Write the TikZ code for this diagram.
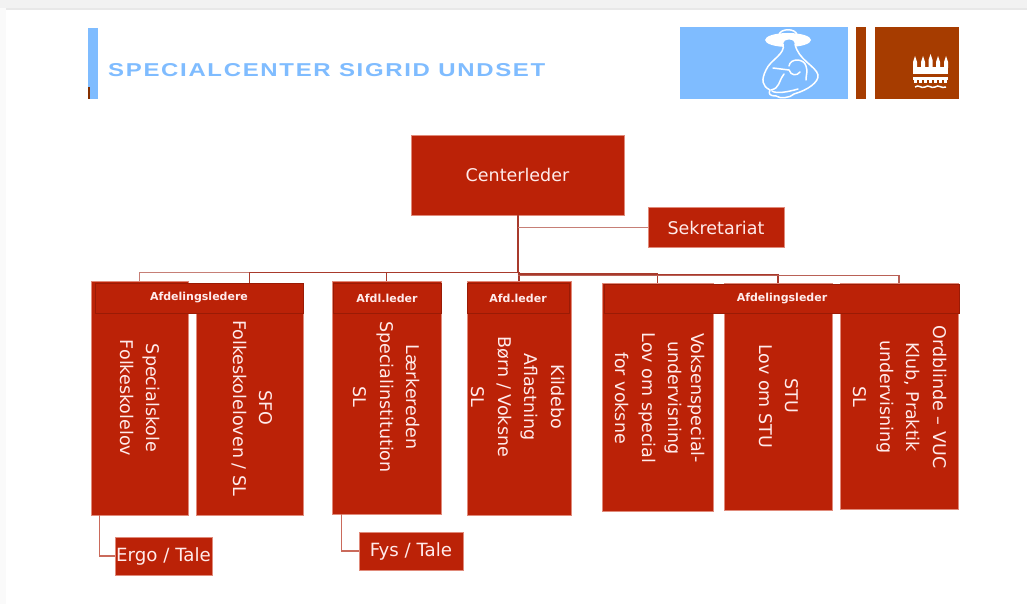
\documentclass[tikz,border=0pt]{standalone}
\usepackage{graphicx}
\usepackage{fontspec}
\setmainfont{DejaVu Sans}
\newfontfamily\titlefont[LetterSpace=7]{Liberation Sans}
\definecolor{boxred}{HTML}{BB2207}
\definecolor{boxedge}{HTML}{E08A7A}
\definecolor{headedge}{HTML}{9A1B05}
\definecolor{linered}{HTML}{A83A2C}
\definecolor{logoblue}{HTML}{7FBCFF}
\definecolor{logobrown}{HTML}{A63C00}
\tikzset{
  redbox/.style={draw=boxedge, fill=boxred, text=white!92!red, inner sep=0pt, line width=0.5pt, font=\fontsize{17.5}{20}\selectfont},
  headbox/.style={draw=headedge, fill=boxred, text=white!92!red, inner sep=0pt, line width=1pt, font=\fontsize{11}{13}\selectfont\bfseries},
  coltext/.style={rotate=-90, align=center, text=white!92!red, inner sep=0pt, font=\fontsize{17.5}{26.5}\selectfont},
  branch/.style={draw=linered, line width=1.2pt},
  logobox/.style={inner sep=0pt, draw=none}
}
\begin{document}
\begin{tikzpicture}[x=1pt, y=-1pt]
    \useasboundingbox (0,0) rectangle (1027,604);
    % Page edges
    \fill[white] (0,0) rectangle (1027,604);
    \fill[black!2] (0,0) rectangle (6,604);
    \fill[black!5] (0,0) rectangle (1027,8);
    \fill[black!9] (6,8) rectangle (1027,10);

    % Title bar
    \fill[logoblue] (88,28) rectangle (98,99);
    \fill[logobrown!80!black] (88,87) rectangle (90,99);
    \node[logobox, anchor=west, text=logoblue] (title) at (108,70)
        {\resizebox{437pt}{13pt}{\titlefont\bfseries SPECIALCENTER SIGRID UNDSET}};

    % Blue logo with mother and child
    \fill[logoblue] (679.5,27.5) rectangle (847.5,99);
    \fill[white] (788,40) ellipse (23 and 7);
    \begin{scope}[draw=white, line width=1.5pt, line cap=round, line join=round]
        \draw (779,35) .. controls (780,28) and (796,28) .. (797,35);
        \fill[logoblue] (783,44) .. controls (783,38) and (795,38) .. (795,44) -- (795,48) -- (783,48) -- cycle;
        \draw (783,44) .. controls (786,54) and (770,60) .. (766,70)
              .. controls (761,80) and (762,86) .. (770,90)
              .. controls (768,94) and (770,96) .. (776,96)
              .. controls (780,99) and (790,98) .. (794,94)
              .. controls (808,90) and (819,82) .. (818,75)
              .. controls (816,66) and (798,60) .. (795,44);
        \draw (773,68) -- (789,70);
        \draw (789,66) .. controls (790,58) and (804,58) .. (806,66)
              .. controls (808,72) and (806,74) .. (806,80);
        \draw (789,70) .. controls (791,76) and (797,76) .. (800,72);
        \draw (784,74) .. controls (778,82) and (780,88) .. (771,90);
        \draw (772,91) .. controls (776,94) and (788,92) .. (798,89);
    \end{scope}

    % Brown bar and logo with towers
    \fill[logobrown] (855.5,27.5) rectangle (866,99);
    \fill[logobrown] (874.5,27.5) rectangle (958.5,99);
    \fill[white] (913,67) rectangle (948,74);
    \foreach \tx/\ty in {915/56, 923/56, 930.5/54, 938/56, 946/56} {
        \fill[white] (\tx-2,68) -- (\tx-2,\ty+6) -- (\tx,\ty) -- (\tx+2,\ty+6) -- (\tx+2,68) -- cycle;
    }
    \fill[white] (913,77) rectangle (948,80);
    \foreach \cx in {914,919,...,944} {
        \fill[white] (\cx,80) rectangle (\cx+3,83);
    }
    \draw[white, line width=1.5pt] (915,87) .. controls (919,84) and (921,89) .. (925,87)
          .. controls (929,84) and (931,89) .. (935,87) .. controls (939,84) and (941,89) .. (946,87);

    % Top boxes
    \node[redbox, minimum width=213pt, minimum height=80pt] (chief) at (517.5,175) {Centerleder};
    \node[redbox, minimum width=136pt, minimum height=40pt] (secretary) at (716,227.5) {Sekretariat};

    % Columns
    \node[redbox, minimum width=97pt, minimum height=234pt] (special) at (139.5,398) {};
    \node[redbox, minimum width=107pt, minimum height=232pt] (sfo) at (249.5,399) {};
    \node[redbox, minimum width=109pt, minimum height=233pt] (laerk) at (386.5,397.5) {};
    \node[redbox, minimum width=104.5pt, minimum height=234pt] (kilde) at (519,398) {};
    \node[redbox, minimum width=111pt, minimum height=228pt] (adult) at (657.5,397) {};
    \node[redbox, minimum width=108pt, minimum height=227pt] (stu) at (778,396.5) {};
    \node[redbox, minimum width=118pt, minimum height=226pt] (ordb) at (899,396) {};

    % Small boxes at the bottom
    \node[redbox, font=\fontsize{18.2}{20}\selectfont, minimum width=97pt, minimum height=38pt] (ergo) at (163.5,556) {Ergo / Tale};
    \node[redbox, font=\fontsize{18.2}{20}\selectfont, minimum width=104pt, minimum height=38pt] (fys) at (411,551) {Fys / Tale};

    % Lines from the top box
    \draw[branch, draw=linered!65] (chief.south) ++(0,57) -| (special.north);
    \draw[branch] (chief.south) ++(0,57) -| (sfo.north);
    \draw[branch] (chief.south) ++(0,57) -| (laerk.north);
    \draw[branch] (chief.south) ++(0,57) -| (kilde.north);
    \draw[branch] (chief.south) ++(0,58) -| (adult.north);
    \draw[branch] (chief.south) ++(0,59) -| (stu.north);
    \draw[branch, draw=linered!80] (chief.south) ++(0,60) -| (ordb.north);
    \draw[branch, line width=2pt] (chief.south) -- ++(0,58);
    \coordinate (secrjoin) at (chief.south |- secretary.west);
    \draw[branch, draw=linered!65] (secrjoin) -- (secretary.west);
    \draw[branch, draw=boxedge!60!linered] (ergo.west) -| ([xshift=9pt]special.south west);
    \draw[branch, draw=boxedge!60!linered] (fys.west) -| ([xshift=10pt]laerk.south west);

    % Headers across the columns
    \node[headbox, minimum width=208pt, minimum height=30pt] (headA) at (199,298) {Afdelingsledere};
    \node[headbox, minimum width=108pt, minimum height=30pt] (headB) at (387,298) {Afdl.leder};
    \node[headbox, minimum width=102pt, minimum height=30pt] (headC) at (518,298) {Afd.leder};
    \node[headbox, minimum width=355pt, minimum height=29pt] (headD) at (782,298.5) {Afdelingsleder};

    % Rotated column texts
    \node[coltext] (specialtext) at (140,398) {Specialskole\\Folkeskolelov};
    \node[coltext] (sfotext) at (252,408) {SFO\\Folkeskoleloven / SL};
    \node[coltext] (laerktext) at (387,397) {Lærkereden\\Specialinstitution\\SL};
    \node[coltext] (kildetext) at (518,397) {Kildebo\\Aflastning\\Børn / Voksne\\SL};
    \node[coltext] (adulttext) at (660,398) {Voksenspecial-\\[-4pt]undervisning\\Lov om special\\for voksne};
    \node[coltext] (stutext) at (779,396) {STU\\Lov om STU};
    \node[coltext] (ordbtext) at (900,397) {Ordblinde – VUC\\Klub, Praktik\\undervisning\\SL};
\end{tikzpicture}
\end{document}
